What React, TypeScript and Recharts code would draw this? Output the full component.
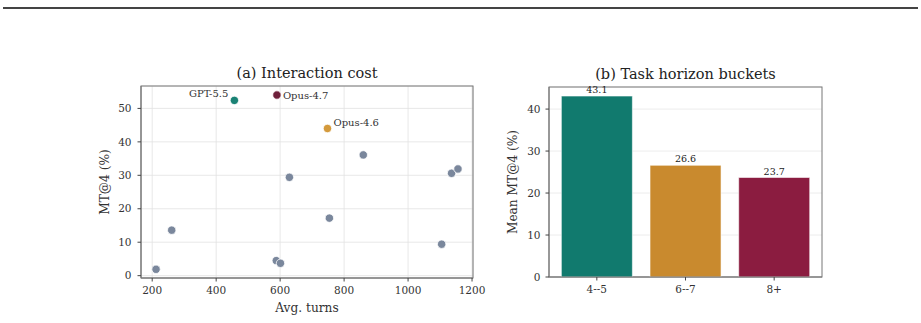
import React from 'react';
import * as Recharts from 'recharts';
import {
  ScatterChart,
  Scatter,
  BarChart,
  Bar,
  Cell,
  XAxis,
  YAxis,
  CartesianGrid,
  LabelList,
  Label
} from 'recharts';

// (a) scatter: every other model, then the three highlighted ones
const otherTurns = [212, 261, 588, 601, 629, 754, 860, 1105, 1136, 1156];
const otherMt4 = [1.9, 13.6, 4.5, 3.7, 29.4, 17.2, 36.1, 9.4, 30.6, 31.9];
const highlightNames = ['GPT-5.5', 'Opus-4.7', 'Opus-4.6'];
const highlightTurns = [457, 590, 748];
const highlightMt4 = [52.4, 54.0, 44.0];
const turnTicks = [200, 400, 600, 800, 1000, 1200];
const mt4Ticks = [0, 10, 20, 30, 40, 50];

// (b) bars
const buckets = ['4--5', '6--7', '8+'];
const bucketMeans = [43.1, 26.6, 23.7];
const meanTicks = [0, 10, 20, 30, 40];

const FONT = '"DejaVu Serif", serif';
const TEXT = '#333';
const AXIS = '#777';
const GRAY_DOT = '#7a879c';
const highlightColors = ['#1a8275', '#6e1f3a', '#d49a3c'];
const bucketColors = ['#117a6e', '#c98a2e', '#8b1c40'];

// label placement next to each highlighted point
const labelStyle: Record<string, { dx: number; dy: number; anchor: 'start' | 'end' }> = {
  'GPT-5.5': { dx: -6, dy: -3, anchor: 'end' },
  'Opus-4.7': { dx: 6, dy: 4, anchor: 'start' },
  'Opus-4.6': { dx: 6, dy: -2, anchor: 'start' }
};

const otherData = otherTurns.map((t, i) => ({ x: t, y: otherMt4[i] }));
const highlightData = highlightNames.map((name, i) => ({
  name,
  x: highlightTurns[i],
  y: highlightMt4[i]
}));
const barData = buckets.map((b, i) => ({ bucket: b, mean: bucketMeans[i] }));

const tickStyle = { fontSize: 10.5, fill: TEXT, fontFamily: FONT };

const dot = (color: string) => (p: any) => (
  <circle cx={p.cx} cy={p.cy} r={4.2} fill={color} stroke="#fff" strokeWidth={0.8} />
);

const yTitle = (text: string, x: number) => (p: any) => {
  const vb = p.viewBox;
  const cy = vb.y + vb.height / 2;
  return (
    <text
      x={x}
      y={cy}
      transform={`rotate(-90, ${x}, ${cy})`}
      textAnchor="middle"
      fontFamily={FONT}
      fontSize={12.2}
      fill={TEXT}
    >
      {text}
    </text>
  );
};

const xTitle = (text: string) => (p: any) => {
  const vb = p.viewBox;
  return (
    <text
      x={vb.x + vb.width / 2}
      y={vb.y + 34}
      textAnchor="middle"
      fontFamily={FONT}
      fontSize={12.2}
      fill={TEXT}
    >
      {text}
    </text>
  );
};

// top/right spines and the panel title, drawn from the plot area
function Frame({ title }: { title: string }) {
  const R: any = Recharts;
  const area = R.usePlotArea ? R.usePlotArea() : null;
  if (!area) return null;
  return (
    <g>
      <rect
        x={area.x}
        y={area.y}
        width={area.width}
        height={area.height}
        fill="none"
        stroke={AXIS}
        strokeWidth={1}
      />
      <text
        x={area.x + area.width / 2}
        y={area.y - 8}
        textAnchor="middle"
        fontFamily={FONT}
        fontSize={14.5}
        fill="#222"
      >
        {title}
      </text>
    </g>
  );
}

function pointLabel(p: any) {
  const s = labelStyle[p.value];
  return (
    <text
      x={p.x + p.width / 2 + s.dx}
      y={p.y + p.height / 2 + s.dy}
      textAnchor={s.anchor}
      fontFamily={FONT}
      fontSize={10}
      fill={TEXT}
    >
      {p.value}
    </text>
  );
}

function InteractionCost() {
  return (
    <ScatterChart
      width={490}
      height={323}
      margin={{ top: 86, right: 17, bottom: 15, left: 101 }}
    >
      <CartesianGrid stroke="#e2e2e2" strokeWidth={0.8} />
      <XAxis
        type="number"
        dataKey="x"
        domain={[165, 1203]}
        ticks={turnTicks}
        allowDataOverflow
        height={30}
        tick={tickStyle}
        tickSize={3.5}
        tickMargin={5}
        stroke={AXIS}
        tickLine={{ stroke: '#444' }}
      >
        <Label content={xTitle('Avg. turns')} />
      </XAxis>
      <YAxis
        type="number"
        dataKey="y"
        domain={[-0.7, 56.7]}
        ticks={mt4Ticks}
        allowDataOverflow
        width={40}
        tick={tickStyle}
        tickSize={3.5}
        tickMargin={6}
        stroke={AXIS}
        tickLine={{ stroke: '#444' }}
      >
        <Label content={yTitle('MT@4 (%)', 109)} />
      </YAxis>
      <Scatter data={otherData} shape={dot(GRAY_DOT)} isAnimationActive={false} />
      {highlightData.map((d, i) => (
        <Scatter
          key={d.name}
          data={[d]}
          shape={dot(highlightColors[i])}
          isAnimationActive={false}
        >
          <LabelList dataKey="name" content={pointLabel} />
        </Scatter>
      ))}
      <Frame title="(a) Interaction cost" />
    </ScatterChart>
  );
}

function HorizonBuckets() {
  return (
    <BarChart
      width={431}
      height={323}
      data={barData}
      margin={{ top: 87, right: 99, bottom: 16, left: 19 }}
      barCategoryGap="10%"
    >
      <XAxis
        dataKey="bucket"
        height={30}
        tick={tickStyle}
        tickSize={3.5}
        tickMargin={5}
        stroke={AXIS}
        tickLine={{ stroke: '#444' }}
        padding={{ left: 3.5, right: 3.5 }}
      />
      <YAxis
        domain={[0, 45.26]}
        ticks={meanTicks}
        allowDataOverflow
        width={40}
        tick={tickStyle}
        tickSize={3.5}
        tickMargin={5}
        stroke={AXIS}
        tickLine={{ stroke: '#444' }}
      >
        <Label content={yTitle('Mean MT@4 (%)', 27)} />
      </YAxis>
      <Bar
        dataKey="mean"
        stroke="#fff"
        strokeOpacity={0.7}
        strokeWidth={0.8}
        isAnimationActive={false}
      >
        {barData.map((d, i) => (
          <Cell key={d.bucket} fill={bucketColors[i]} />
        ))}
        <LabelList
          dataKey="mean"
          position="top"
          offset={3}
          formatter={(v: any) => Number(v).toFixed(1)}
          style={{ fontFamily: FONT, fontSize: 9.5, fill: '#222' }}
        />
      </Bar>
      <CartesianGrid vertical={false} stroke="#e3e3e3" strokeOpacity={0.7} strokeWidth={0.9} />
      <Frame title="(b) Task horizon buckets" />
    </BarChart>
  );
}

export default function App() {
  return (
    <div style={{ position: 'absolute', left: 0, top: 0, width: 921, height: 323, background: '#fff' }}>
      <div style={{ position: 'absolute', left: 3, top: 7, width: 915, height: 2, background: '#444' }} />
      <div style={{ position: 'absolute', left: 0, top: 0 }}>
        <InteractionCost />
      </div>
      <div style={{ position: 'absolute', left: 490, top: 0 }}>
        <HorizonBuckets />
      </div>
    </div>
  );
}
